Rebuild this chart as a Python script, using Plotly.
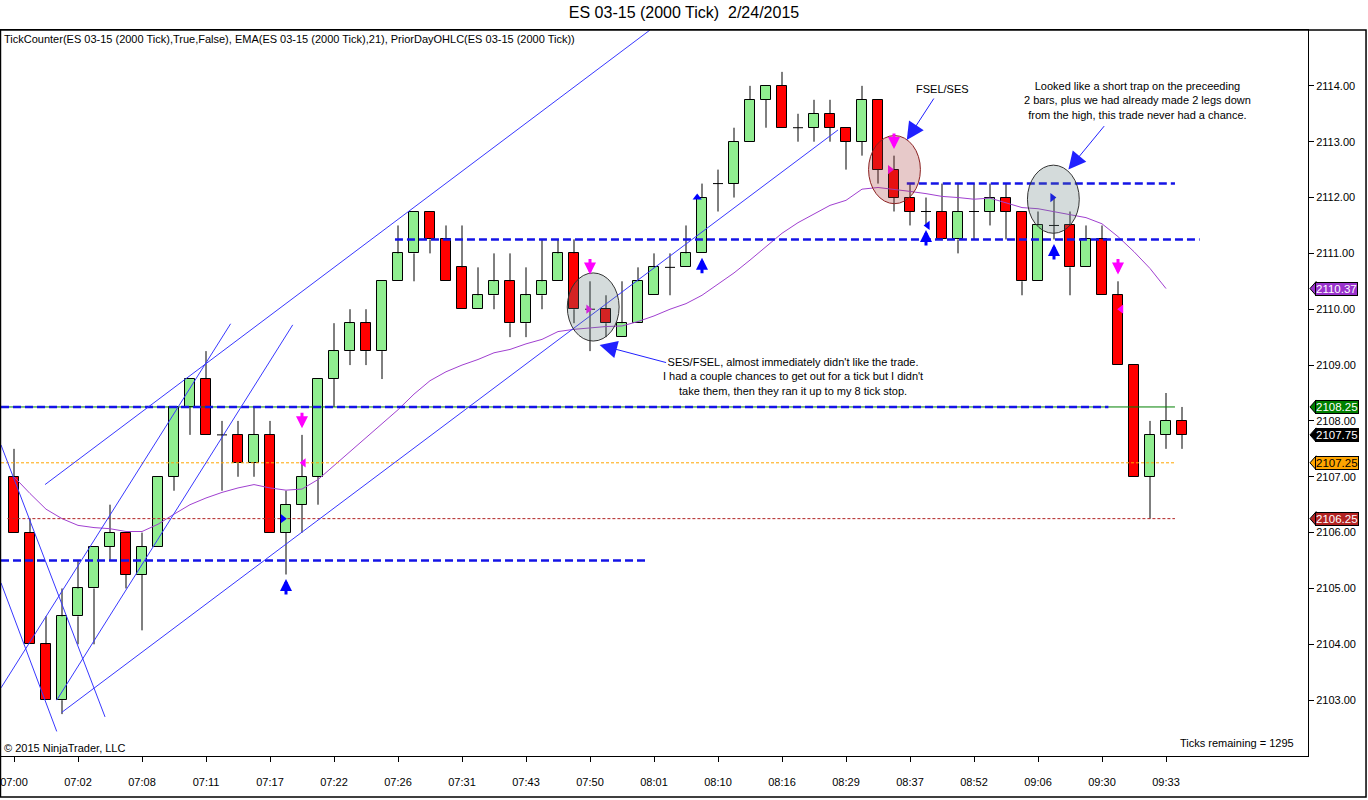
import plotly.graph_objects as go

# ES 03-15 (2000 Tick) bars, 2/24/2015
opens = [2107, 2106, 2104, 2103, 2104.5, 2105, 2105.75, 2106, 2105.25, 2105.75,
         2107, 2108.25, 2108.75, 2107.75, 2107.75, 2107.25, 2107.75, 2106, 2106.5, 2107,
         2108.75, 2109.25, 2109.75, 2109.25, 2110.5, 2111, 2111.75, 2111.25, 2110.75, 2110,
         2110.25, 2110.5, 2109.75, 2110.25, 2110.5, 2111, 2110, 2110, 2109.5, 2109.75,
         2110.25, 2110.75, 2110.75, 2111, 2112.25, 2112.25, 2113, 2113.75, 2114, 2113.25,
         2113.25, 2113.5, 2113.25, 2113, 2113.75, 2112.5, 2112, 2111.75, 2111.75, 2111.25,
         2111.75, 2111.75, 2112, 2111.75, 2110.5, 2111.5, 2111.5, 2110.75, 2111.25, 2110.25,
         2109, 2107, 2107.75, 2108]
highs = [2107.5, 2106.25, 2104.5, 2105, 2105.5, 2105.75, 2106.5, 2106, 2106, 2107,
         2108.25, 2108.75, 2109.25, 2108, 2108, 2108.25, 2108, 2106.75, 2107.75, 2108.75,
         2109.75, 2110, 2110, 2110.5, 2111.5, 2111.75, 2111.75, 2111.5, 2111.5, 2110.75,
         2111, 2111, 2110.75, 2111.25, 2111.25, 2111.25, 2110.5, 2110.25, 2110.5, 2110.75,
         2111, 2111, 2111.5, 2112.25, 2112.5, 2113.25, 2114, 2114, 2114.25, 2113.5,
         2113.75, 2113.75, 2113.25, 2114, 2113.75, 2112.75, 2112.25, 2112, 2112.25, 2112.25,
         2112.25, 2112.25, 2112.25, 2111.75, 2111.75, 2112, 2111.75, 2111.5, 2111.5, 2110.5,
         2109, 2108, 2108.5, 2108.25]
lows = [2106, 2104, 2103, 2102.75, 2104, 2104, 2105.5, 2105, 2104.25, 2105.75,
        2106.75, 2107.75, 2107.75, 2106.75, 2107, 2107, 2106, 2105.25, 2106, 2106.5,
        2108.25, 2109, 2109, 2108.75, 2110.5, 2110.5, 2111, 2110.5, 2110, 2110,
        2110, 2109.5, 2109.5, 2110, 2110.5, 2109.75, 2109.25, 2109.5, 2109.5, 2109.75,
        2110.25, 2110.25, 2110.75, 2111, 2111.75, 2112, 2113, 2113.25, 2113.25, 2113,
        2113, 2113, 2112.5, 2112.75, 2112.25, 2111.75, 2111.5, 2111.5, 2111.25, 2111,
        2111.25, 2111.5, 2111.25, 2110.25, 2110.5, 2111.25, 2110.25, 2110.75, 2110.25, 2109,
        2107, 2106.25, 2107.5, 2107.5]
closes = [2106, 2104, 2103, 2104.5, 2105, 2105.75, 2106, 2105.25, 2105.75, 2107,
          2108.25, 2108.75, 2107.75, 2107.75, 2107.25, 2107.75, 2106, 2106.5, 2107, 2108.75,
          2109.25, 2109.75, 2109.25, 2110.5, 2111, 2111.75, 2111.25, 2110.5, 2110, 2110.25,
          2110.5, 2109.75, 2110.25, 2110.5, 2111, 2110, 2110, 2109.75, 2109.75, 2110.5,
          2110.75, 2110.75, 2111, 2112, 2112.25, 2113, 2113.75, 2114, 2113.25, 2113.25,
          2113.5, 2113.25, 2113, 2113.75, 2112.5, 2112, 2111.75, 2111.75, 2111.25, 2111.75,
          2111.75, 2112, 2111.75, 2110.5, 2111.5, 2111.5, 2110.75, 2111.25, 2110.25, 2109,
          2107, 2107.75, 2108, 2107.75]

# EMA(21) as drawn on the chart (ends one bar before the last one)
ema21 = [2107.0, 2106.7, 2106.42, 2106.25, 2106.13, 2106.09, 2106.07, 2106.02, 2106.02, 2106.15,
         2106.33, 2106.5, 2106.62, 2106.72, 2106.8, 2106.86, 2106.8, 2106.76, 2106.78, 2106.95,
         2107.2, 2107.45, 2107.7, 2107.95, 2108.2, 2108.48, 2108.72, 2108.88, 2109.0, 2109.1,
         2109.22, 2109.28, 2109.38, 2109.46, 2109.6, 2109.64, 2109.67, 2109.69, 2109.7, 2109.78,
         2109.88, 2110.0, 2110.1, 2110.25, 2110.45, 2110.65, 2110.88, 2111.12, 2111.36, 2111.55,
         2111.7, 2111.86, 2111.95, 2112.15, 2112.18, 2112.15, 2112.11, 2112.07, 2112.02, 2112.0,
         2111.97, 2111.99, 2111.9, 2111.82, 2111.8, 2111.75, 2111.7, 2111.64, 2111.53, 2111.3,
         2111.03, 2110.73, 2110.37]
ema_last = 2110.37

tick_every = 4
tick_labels = ['07:00', '07:02', '07:08', '07:11', '07:17', '07:22', '07:26', '07:31', '07:43',
               '07:50', '08:01', '08:10', '08:16', '08:29', '08:37', '08:52', '09:06', '09:30', '09:33']
price_ticks = [2103, 2104, 2105, 2106, 2107, 2108, 2109, 2110, 2111, 2112, 2113, 2114]

# PriorDayOHLC levels
prior_high = 2108.25
prior_open = 2107.25
prior_low = 2106.25
prior_end = 72.56

# hand drawn horizontal levels: price, from bar, to bar
level_prices = [2108.25, 2105.5, 2111.25, 2112.25]
level_from = [-0.8125, -0.8125, 23.81, 55.8]
level_to = [68.4, 39.44, 74.1, 72.56]

# hand drawn trend lines: (bar, price) -> (bar, price)
trend_lines = [
    ((1.94, 2106.86), (39.75, 2115.0)),
    ((2.98, 2102.78), (51.5, 2113.21)),
    ((-0.8125, 2103.22), (13.54, 2109.74)),
    ((2.67, 2103.0), (17.42, 2109.72)),
    ((-0.8125, 2107.57), (5.69, 2102.70)),
    ((-0.8125, 2105.10), (2.67, 2102.44)),
]

# signal arrows
long_bars = [17, 43, 57, 65]
short_bars = [18, 36, 55, 69]
entry_long_x = [16.8, 42.7, 57.1, 64.9]
entry_long_y = [2106.25, 2112.0, 2111.5, 2112.0]
entry_long_sym = ['triangle-right', 'triangle-up', 'triangle-left', 'triangle-right']
entry_short_x = [18.1, 35.9, 54.75, 69.2]
entry_short_y = [2107.25, 2110.0, 2112.5, 2110.0]
entry_short_sym = ['triangle-left', 'triangle-right', 'triangle-right', 'triangle-left']

FONT = 'Liberation Sans'
n = len(opens)
idx = list(range(n))

fig = go.Figure()

# wicks (drawn outside the bodies)
wx, wy = [], []
for i in idx:
    top = max(opens[i], closes[i])
    bot = min(opens[i], closes[i])
    if highs[i] > top:
        wx += [i, i, None]
        wy += [highs[i], top, None]
    if lows[i] < bot:
        wx += [i, i, None]
        wy += [bot, lows[i], None]
fig.add_trace(go.Scatter(x=wx, y=wy, mode='lines', line=dict(color='black', width=1),
                         hoverinfo='skip'))

# bodies
body_x, body_base, body_h, body_col = [], [], [], []
dx, dy = [], []
for i in idx:
    if closes[i] == opens[i]:
        dx += [i - 0.3125, i + 0.3125, None]
        dy += [opens[i], opens[i], None]
        continue
    body_x.append(i)
    body_base.append(min(opens[i], closes[i]))
    body_h.append(abs(closes[i] - opens[i]))
    body_col.append('#90EE90' if closes[i] > opens[i] else '#FF0000')
fig.add_trace(go.Bar(x=body_x, y=body_h, base=body_base, width=0.625,
                     marker=dict(color=body_col, line=dict(color='black', width=1))))
fig.add_trace(go.Scatter(x=dx, y=dy, mode='lines', line=dict(color='black', width=1),
                         hoverinfo='skip'))

# EMA
fig.add_trace(go.Scatter(x=idx[:len(ema21)], y=ema21, mode='lines',
                         line=dict(color='#A040D0', width=1)))

# prior day levels
x0 = -0.8125
fig.add_trace(go.Scatter(x=[x0, prior_end], y=[prior_high] * 2, mode='lines',
                         line=dict(color='#008000', width=1)))
fig.add_trace(go.Scatter(x=[x0, prior_end], y=[prior_open] * 2, mode='lines',
                         line=dict(color='#FFA500', width=1, dash='3px,2px')))
fig.add_trace(go.Scatter(x=[x0 + 0.4, prior_end], y=[prior_low] * 2, mode='lines',
                         line=dict(color='#B22222', width=1, dash='3px,2px')))

# blue dashed levels
for p, a, b in zip(level_prices, level_from, level_to):
    fig.add_trace(go.Scatter(x=[a, b], y=[p, p], mode='lines',
                             line=dict(color='#1414E6', width=2.5, dash='8px,4px')))

# trend lines
for (xa, ya), (xb, yb) in trend_lines:
    fig.add_trace(go.Scatter(x=[xa, xb], y=[ya, yb], mode='lines',
                             line=dict(color='#3838FF', width=1)))

# entry markers
fig.add_trace(go.Scatter(x=entry_long_x, y=entry_long_y, mode='markers',
                         marker=dict(symbol=entry_long_sym, size=8, color='#0000FF')))
fig.add_trace(go.Scatter(x=entry_short_x, y=entry_short_y, mode='markers',
                         marker=dict(symbol=entry_short_sym, size=8, color='#FF00FF')))

annotations = []
for b in long_bars:
    annotations.append(dict(x=b, y=lows[b] - 0.08, ax=0, ay=17, showarrow=True, text='',
                            arrowhead=2, arrowwidth=3, arrowsize=0.8, arrowcolor='#0000FF'))
for b in short_bars:
    annotations.append(dict(x=b, y=highs[b] + 0.12, ax=0, ay=-17, showarrow=True, text='',
                            arrowhead=2, arrowwidth=3, arrowsize=0.8, arrowcolor='#FF00FF'))

# callouts
note_font = dict(family=FONT, size=11, color='black')
callouts = [
    (55.8, 2113.03, 28, -43, 'FSEL/SES', 58.06, 2113.95),
    (65.9, 2112.5, 37, -45,
     'Looked like a short trap on the preceeding<br>2 bars, plus we had already made 2 legs down<br>'
     'from the high, this trade never had a chance.', 70.19, 2113.73),
    (36.6, 2109.36, 68, 18,
     "SES/FSEL, almost immediately didn't like the trade.<br>I had a couple chances to get out for a tick but I didn't<br>"
     'take them, then they ran it up to my 8 tick stop.', 48.69, 2108.79),
]
for tx, ty, ax, ay, txt, lx, ly in callouts:
    annotations.append(dict(x=tx, y=ty, ax=ax, ay=ay, showarrow=True, text='',
                            arrowhead=2, arrowwidth=1, arrowsize=3.5, arrowcolor='#2020FF'))
    annotations.append(dict(x=lx, y=ly, text=txt, showarrow=False, font=note_font, align='center'))

# right side price tags
tags = [(ema_last, '#9932CC', 'white'), (prior_high, '#008000', 'white'),
        (closes[-1], '#000000', 'white'), (prior_open, '#FFA500', 'black'),
        (prior_low, '#B22222', 'white')]
shapes = []
for p, bg, fg in tags:
    annotations.append(dict(xref='paper', x=1.0057, y=p, xanchor='left', yanchor='middle',
                            text='%.2f' % p, showarrow=False, bgcolor=bg, bordercolor='black',
                            borderwidth=1, borderpad=0, font=dict(family=FONT, size=11.5, color=fg)))
    shapes.append(dict(type='path', xref='paper', yref='y', layer='above',
                       path='M 1.0015,%f L 1.0062,%f L 1.0062,%f Z' % (p, p + 0.125, p - 0.125),
                       fillcolor=bg, line=dict(color='black', width=1)))

# circled trades
circles = [(36.2, 2110.04, 'rgba(100,125,125,0.28)', '#333333'),
           (55.03, 2112.5, 'rgba(170,60,60,0.28)', '#8B2020'),
           (64.96, 2111.97, 'rgba(100,125,125,0.28)', '#333333')]
for cx, cy, fc, lc in circles:
    shapes.append(dict(type='circle', xref='x', yref='y', layer='above',
                       x0=cx - 1.62, x1=cx + 1.62, y0=cy - 0.61, y1=cy + 0.61,
                       fillcolor=fc, line=dict(color=lc, width=1)))

# outer window frame
shapes.append(dict(type='rect', xref='paper', yref='paper', x0=-0.0004, x1=1.0444,
                   y0=-0.0565, y1=1.0, line=dict(color='black', width=1.5), layer='above'))

annotations += [
    dict(xref='paper', yref='paper', x=0.001, y=0.9876, xanchor='left', yanchor='middle',
         showarrow=False, font=dict(family=FONT, size=11, color='black'),
         text='TickCounter(ES 03-15 (2000 Tick),True,False), EMA(ES 03-15 (2000 Tick),21), '
              'PriorDayOHLC(ES 03-15 (2000 Tick))'),
    dict(xref='paper', yref='paper', x=0.001, y=0.011, xanchor='left', yanchor='middle',
         showarrow=False, font=dict(family=FONT, size=11, color='black'),
         text='\u00a9 2015 NinjaTrader, LLC'),
    dict(xref='paper', yref='paper', x=0.9908, y=0.0179, xanchor='right', yanchor='middle',
         showarrow=False, font=dict(family=FONT, size=11, color='black'),
         text='Ticks remaining = 1295'),
]

fig.update_layout(
    width=1368, height=800,
    margin=dict(l=1, r=60, t=30, b=44, autoexpand=False),
    paper_bgcolor='white', plot_bgcolor='white',
    showlegend=False,
    bargap=0,
    title=dict(text='ES 03-15 (2000 Tick) \u00a02/24/2015', x=0.5, xref='container',
               y=0.984, yanchor='middle', font=dict(family=FONT, size=16, color='black')),
    font=dict(family=FONT, size=12, color='black'),
    annotations=annotations,
    shapes=shapes,
    xaxis=dict(range=[-0.8125, 80.875], tickmode='array', automargin=False,
               tickvals=idx[::tick_every], ticktext=tick_labels, ticklabeloverflow='allow',
               ticklabelstandoff=11,
               showgrid=False, zeroline=False, showline=True, mirror=True,
               linecolor='black', linewidth=1, ticks='outside', ticklen=5,
               tickcolor='black', tickfont=dict(family=FONT, size=11)),
    yaxis=dict(range=[2102, 2115], side='right', tickmode='array', tickvals=price_ticks,
               tickformat='.2f', automargin=False, ticklabeloverflow='allow',
               showgrid=False, zeroline=False, showline=True, mirror=True,
               linecolor='black', linewidth=1, ticks='outside', ticklen=5,
               tickcolor='black', tickfont=dict(family=FONT, size=11)),
)

# the page body has a default 8px margin; drop it so the figure sits at the window corner
fig.write_html('out.html', config={'displayModeBar': False},
               post_script="document.body.style.margin='0';")
